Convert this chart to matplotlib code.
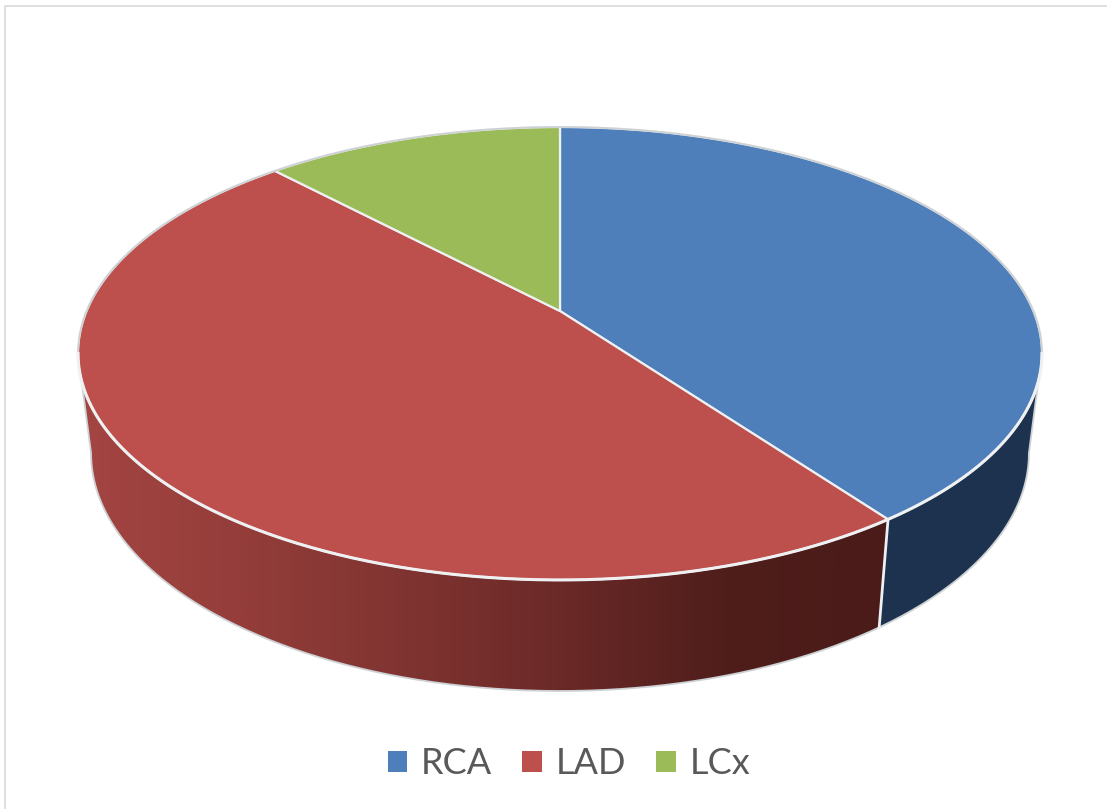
#3d looking pie chart of the culprit vessels, drawn by hand since matplotlib has no 3d pie

import numpy as np
import matplotlib
matplotlib.use('Agg')
import matplotlib.pyplot as plt
from matplotlib.colors import LinearSegmentedColormap
from matplotlib.patches import Patch, Polygon

labels = ['RCA', 'LAD', 'LCx']
values = [40, 48, 12]
colors = ['#4e7fbb', '#bd4f4c', '#9bbb59']
wall_colors = [
    ['#1d3350', '#1c324f'],
    ['#a44542', '#943d3a', '#803431', '#6a2927', '#4f1e1b', '#4a1b19'],
    ['#5d7035', '#5d7035'],
]

plt.rcParams['font.family'] = ['Lato', 'DejaVu Sans']

# perspective of the top and bottom disc, in pixels
cx = 560
top_vy, top_r, top_s = 311, 473.4, 218.5
bot_vy, bot_r, bot_s = 408.5, 460.6, 229.5
k = 0.1876
rim_color = '#eef0f1'
outline_color = '#cdd1d4'


def disc_point(theta, vy, r, s):
    """
    Angle in degrees, clockwise from the top, to a pixel on one of the discs.
    """
    t = np.radians(theta)
    x, y = np.sin(t), np.cos(t)
    d = 1 + k * y
    return np.column_stack([cx + r * x / d, vy - s * y / d])


def top_point(theta):
    return disc_point(theta, top_vy, top_r, top_s)


def bot_point(theta):
    return disc_point(theta, bot_vy, bot_r, bot_s)


fig = plt.figure(figsize=(11.07, 8.09), dpi=100)
ax = fig.add_axes([0, 0, 1, 1])
ax.set_xlim(0, 1107)
ax.set_ylim(809, 0)
ax.axis('off')

# chart frame, only left and top stay visible in the crop
ax.plot([4.8, 4.8, 1107], [809, 5.5, 5.5], color='#d9d9d9', lw=1.2, zorder=1)

edges = np.concatenate([[0], np.cumsum(values)]) * 360.0 / sum(values)

# the outer wall only shows between the two horizontal extremes of the disc
right_side = np.degrees(np.arccos(-k))
left_side = 360 - right_side

for i in range(len(values)):
    a0 = max(edges[i], right_side)
    a1 = min(edges[i + 1], left_side)
    if a1 <= a0:
        continue
    th = np.linspace(a0, a1, 300)
    tp, bp = top_point(th), bot_point(th)
    wall = np.vstack([tp, bp[::-1]])
    # horizontal gradient clipped to the wall shape, quads gave moire stripes
    x0, x1 = wall[:, 0].min(), wall[:, 0].max()
    y0, y1 = wall[:, 1].min(), wall[:, 1].max()
    cmap = LinearSegmentedColormap.from_list('wall', wall_colors[i])
    grad = np.linspace(0, 1, 512).reshape(1, -1)
    im = ax.imshow(grad, cmap=cmap, extent=[x0, x1, y1, y0], aspect='auto', zorder=2)
    im.set_clip_path(Polygon(wall, closed=True, transform=ax.transData))
ax.set_xlim(0, 1107)
ax.set_ylim(809, 0)

# thin outline round the wall
low = bot_point(np.linspace(right_side, left_side, 300))
ax.plot(low[:, 0], low[:, 1], color=outline_color, lw=1.3, zorder=3)
for side in [right_side, left_side]:
    line = np.vstack([top_point(np.array([side])), bot_point(np.array([side]))])
    ax.plot(line[:, 0], line[:, 1], color=outline_color, lw=1.3, zorder=3)

# vertical seams between the slices
for a in edges[1:-1]:
    if right_side < a < left_side:
        line = np.vstack([top_point(np.array([a])), bot_point(np.array([a]))])
        ax.plot(line[:, 0], line[:, 1], color=rim_color, lw=2, zorder=3)

# top faces
for i in range(len(values)):
    th = np.linspace(edges[i], edges[i + 1], 300)
    arc = top_point(th)
    pts = np.vstack([[cx, top_vy], arc])
    ax.add_patch(Polygon(pts, closed=True, facecolor=colors[i], edgecolor=rim_color,
                         lw=1.6, joinstyle='round', zorder=4))

# rim is heavier along the front, greyer along the back
back = top_point(np.linspace(left_side, right_side + 360, 400))
ax.plot(back[:, 0], back[:, 1], color=outline_color, lw=1.3, zorder=5)
front = top_point(np.linspace(right_side, left_side, 400))
ax.plot(front[:, 0], front[:, 1], color=rim_color, lw=2.2, zorder=5)

handles = [Patch(facecolor=c, edgecolor='none', label=l) for c, l in zip(colors, labels)]
fig.legend(handles=handles, loc='center', bbox_to_anchor=(569 / 1107, 1 - 764 / 809),
           ncol=3, frameon=False, fontsize=26, labelcolor='#595959',
           handlelength=0.53, handleheight=0.53, handletextpad=0.39,
           columnspacing=0.84, borderpad=0, borderaxespad=0)

plt.savefig('out.png', dpi=100)
